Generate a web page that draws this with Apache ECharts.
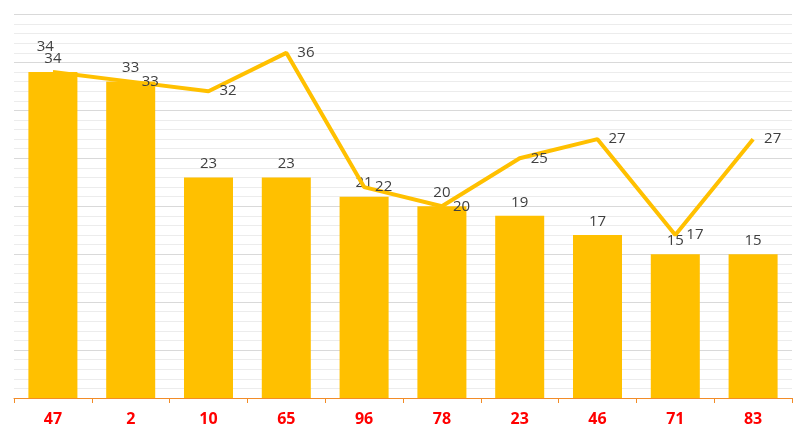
<!DOCTYPE html>
<html>
<head>
<meta charset="utf-8">
<script src="https://cdn.jsdelivr.net/npm/echarts@6/dist/echarts.min.js"></script>
<style>html,body{margin:0;padding:0;background:#fff}#c{width:806px;height:438px}</style>
</head>
<body>
<div id="c"></div>
<script>
const categories = ['47','2','10','65','96','78','23','46','71','83'];
const barValues = [34,33,23,23,21,20,19,17,15,15];
const lineValues = [34,33,32,36,22,20,25,27,17,27];
const yTicks = {min:0, max:40, interval:5};

const chart = echarts.init(document.getElementById('c'));
const font = '"Open Sans", "Noto Sans", sans-serif';
const lineData = lineValues.map((v,i) => i === 0
  ? {value: v, label: {position: 'left', offset: [12, -25]}}
  : v);
chart.setOption({
  animation: false,
  grid: {left: 14, right: 14, top: 14.5, bottom: 40},
  xAxis: {
    type: 'category', data: categories,
    axisLine: {lineStyle: {color: '#F28C28', width: 1}},
    axisTick: {show: true, length: 5, lineStyle: {color: '#F28C28'}},
    axisLabel: {color: '#FF0000', fontWeight: 'bold', fontSize: 16, fontFamily: font, margin: 13}
  },
  yAxis: {
    type: 'value', min: yTicks.min, max: yTicks.max, interval: yTicks.interval,
    axisLabel: {show: false}, axisLine: {show: false}, axisTick: {show: false},
    splitLine: {lineStyle: {color: '#d9d9d9'}},
    minorTick: {show: false, splitNumber: 5},
    minorSplitLine: {show: true, lineStyle: {color: '#ececec'}}
  },
  series: [
    {
      type: 'bar', data: barValues, barWidth: '63%',
      itemStyle: {color: '#FFC000'},
      label: {show: true, position: 'top', distance: 6, color: '#404040', fontSize: 15, fontFamily: font}
    },
    {
      type: 'line', data: lineData,
      symbol: 'circle', symbolSize: 12,
      itemStyle: {color: 'rgba(0,0,0,0)'},
      lineStyle: {color: '#FFC000', width: 4},
      label: {show: true, position: 'right', color: '#404040', fontSize: 15, fontFamily: font}
    }
  ]
});
</script>
</body>
</html>
